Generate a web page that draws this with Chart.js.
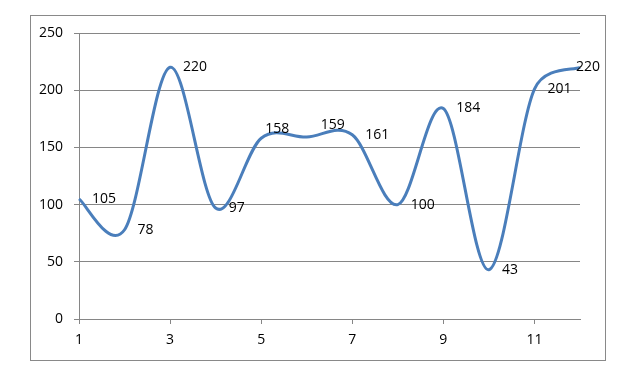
<!DOCTYPE html>
<html>
<head>
<meta charset="utf-8">
<script src="https://cdn.jsdelivr.net/npm/chart.js@4/dist/chart.umd.min.js"></script>
<style>
  html, body { margin: 0; padding: 0; background: #ffffff; }
  #wrap { position: absolute; left: 0; top: 0; width: 635px; height: 388px; }
</style>
</head>
<body>
<div id="wrap"><canvas id="c" width="635" height="388"></canvas></div>
<script>
// ---- data ----
const xValues = [1, 2, 3, 4, 5, 6, 7, 8, 9, 10, 11, 12];
const yValues = [105, 78, 220, 97, 158, 159, 161, 100, 184, 43, 201, 220];
const xTickValues = [1, 3, 5, 7, 9, 11];
const yTickValues = [0, 50, 100, 150, 200, 250];

// ---- layout / styling (not data) ----
const FONT = { family: '"Open Sans", "Liberation Sans", sans-serif', size: 14 };
const GRID = '#868686';
const LINE = '#4A7EBB';
const labelGap = 13;
const labelNudge = { 4: [-9, -9], 5: [1, -12], 11: [-17, 0] };

// Excel-like smoothing: tension 1/6, control distance capped at half the segment length
const excelSmooth = {
  id: 'excelSmooth',
  beforeDatasetsDraw(chart) {
    chart.data.datasets.forEach((ds, di) => {
      const meta = chart.getDatasetMeta(di);
      const line = meta.dataset;
      if (line && typeof line.updateControlPoints === 'function') {
        line.updateControlPoints(chart.chartArea, 'x');
      }
      const pts = meta.data;
      const n = pts.length;
      const dist = (a, b) => Math.hypot(b.x - a.x, b.y - a.y);
      for (let i = 0; i < n; i++) {
        const p = pts[i];
        const prev = pts[Math.max(0, i - 1)];
        const next = pts[Math.min(n - 1, i + 1)];
        const dx = next.x - prev.x, dy = next.y - prev.y;
        const span = Math.hypot(dx, dy) || 1;
        // incoming (segment prev->p)
        const fIn = Math.min(1 / 6, dist(prev, p) / (2 * span));
        // outgoing (segment p->next)
        const fOut = Math.min(1 / 6, dist(p, next) / (2 * span));
        p.cp1x = p.x - dx * fIn; p.cp1y = p.y - dy * fIn;
        p.cp2x = p.x + dx * fOut; p.cp2y = p.y + dy * fOut;
      }
    });
  }
};

const frameAndLabels = {
  id: 'frameAndLabels',
  beforeDraw(chart) {
    const ctx = chart.ctx;
    ctx.save();
    ctx.fillStyle = '#ffffff';
    ctx.fillRect(0, 0, chart.width, chart.height);
    ctx.strokeStyle = '#898989';
    ctx.lineWidth = 1;
    ctx.strokeRect(30.5, 15.5, 575, 345);
    ctx.restore();
  },
  afterDatasetsDraw(chart) {
    const ctx = chart.ctx;
    const meta = chart.getDatasetMeta(0);
    ctx.save();
    ctx.font = FONT.size + 'px ' + FONT.family;
    ctx.fillStyle = '#000000';
    ctx.textAlign = 'left';
    ctx.textBaseline = 'middle';
    meta.data.forEach((pt, i) => {
      const n = labelNudge[i] || [0, 0];
      ctx.fillText(String(yValues[i]), pt.x + labelGap + n[0], pt.y + n[1]);
    });
    ctx.restore();
  }
};

new Chart(document.getElementById('c'), {
  type: 'line',
  data: {
    datasets: [{
      data: xValues.map((x, i) => ({ x: x, y: yValues[i] })),
      borderColor: LINE,
      borderWidth: 3,
      pointRadius: 0,
      pointHoverRadius: 0,
      tension: 0.0001,
      fill: false,
      clip: 8
    }]
  },
  options: {
    responsive: false,
    animation: false,
    events: [],
    layout: { padding: { left: 0, top: 33, right: 55, bottom: 0 } },
    plugins: { legend: { display: false }, tooltip: { enabled: false }, title: { display: false } },
    scales: {
      x: {
        type: 'linear',
        min: 1,
        max: 12,
        afterBuildTicks: (scale) => { scale.ticks = xTickValues.map(v => ({ value: v })); },
        afterFit: (scale) => { scale.height = 69; },
        grid: { drawOnChartArea: false, drawTicks: true, tickLength: 5, color: GRID },
        border: { display: true, color: GRID },
        ticks: { font: FONT, color: '#000000', padding: 8, maxRotation: 0, autoSkip: false }
      },
      y: {
        min: 0,
        max: 250,
        afterBuildTicks: (scale) => { scale.ticks = yTickValues.map(v => ({ value: v })); },
        afterFit: (scale) => { scale.width = 79; },
        grid: { color: GRID, tickLength: 5, drawTicks: true },
        border: { display: true, color: GRID },
        ticks: { font: FONT, color: '#000000', padding: 11 }
      }
    }
  },
  plugins: [excelSmooth, frameAndLabels]
});
</script>
</body>
</html>
